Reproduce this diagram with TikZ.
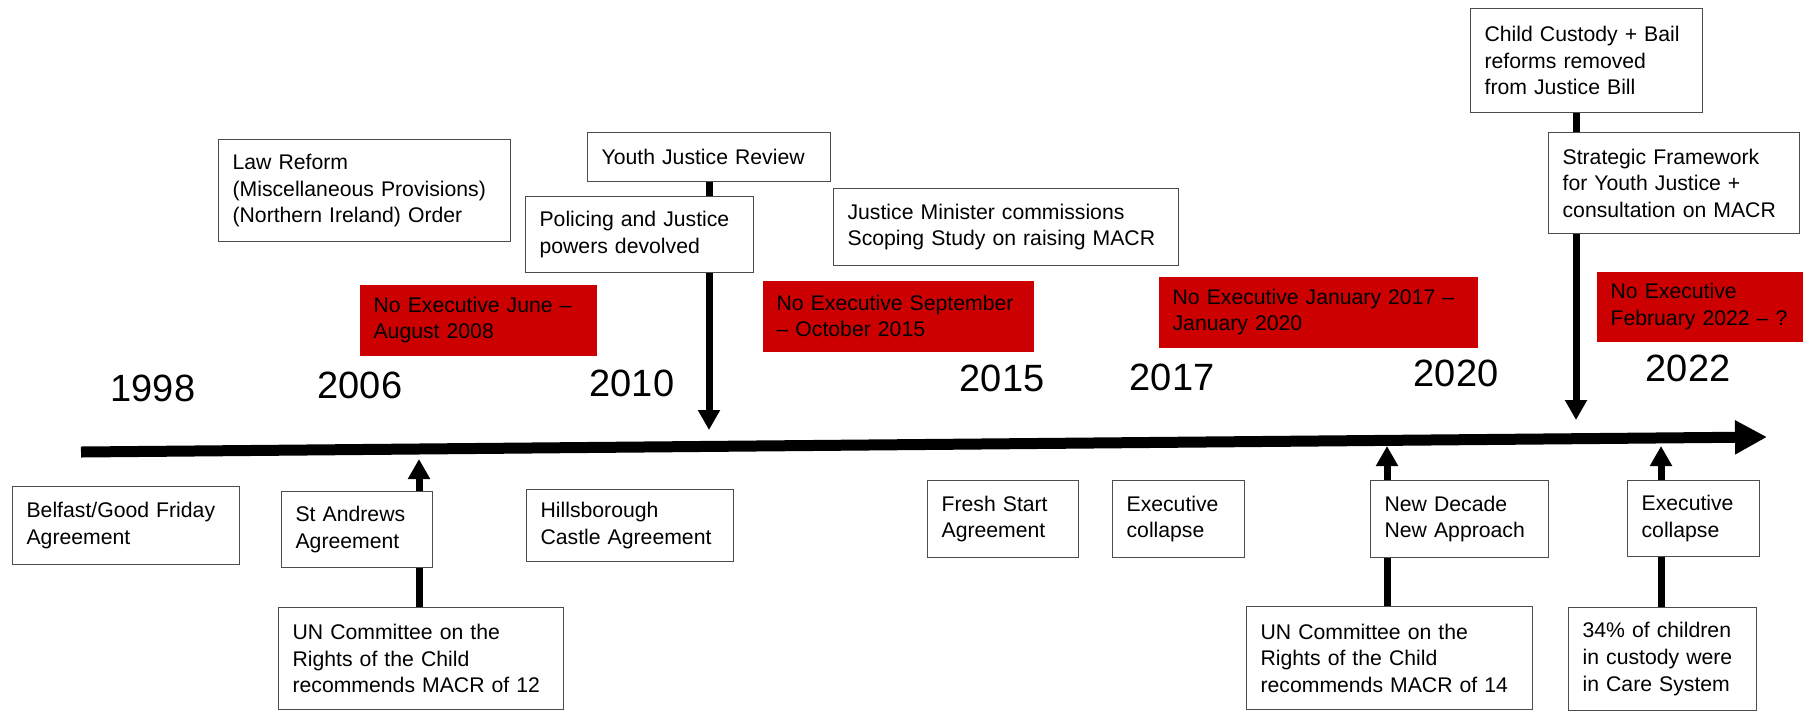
\documentclass[tikz,border=0pt]{standalone}
\usepackage{fontspec}
\setmainfont{Liberation Sans}
\usetikzlibrary{arrows.meta,calc}
\definecolor{noexecred}{HTML}{CC0000}
\tikzset{
  event/.style={draw=black!70, line width=0.6pt, fill=white, anchor=north west, align=left,
                inner xsep=7pt, inner ysep=2pt, font=\fontsize{10.6}{13.3}\selectfont},
  noexec/.style={event, draw=none, fill=noexecred},
  year/.style={font=\fontsize{19}{23}\selectfont, inner sep=0pt},
  timeline/.style={line width=5.5pt, -{Triangle[width=16pt,length=16pt]}},
  pointer/.style={line width=3.5pt, -{Triangle[width=10.5pt,length=10pt]}},
  stem/.style={line width=3.5pt}
}

\begin{document}
\begin{tikzpicture}[x=0.5pt,y=-0.5pt]
  \useasboundingbox (0,0) rectangle (1803,713);

  % Events above the time line.
  \node[event, text width=132pt, minimum height=51pt] (lawreform) at (218,139)
    {Law Reform\\(Miscellaneous Provisions)\\(Northern Ireland) Order};
  \node[event, text width=107.5pt, minimum height=24.5pt] (youthreview) at (587,132)
    {Youth Justice Review};
  \node[event, text width=100pt, minimum height=38pt] (policing) at (525,196)
    {Policing and Justice\\powers devolved};
  \node[event, text width=158.5pt, minimum height=38.5pt] (ministerstudy) at (833,188)
    {Justice Minister commissions\\Scoping Study on raising MACR};
  \node[event, text width=102pt, minimum height=52pt] (childcustody) at (1470,8)
    {Child Custody + Bail\\reforms removed\\from Justice Bill};
  \node[event, text width=111.5pt, minimum height=50.5pt] (strategic) at (1548,132)
    {Strategic Framework\\for Youth Justice +\\consultation on MACR};

  % Periods without an Executive.
  \node[noexec, text width=104.5pt, minimum height=35.5pt] (noexec2008) at (359,284)
    {No Executive June --\\August 2008};
  \node[noexec, text width=121.5pt, minimum height=35.5pt] (noexec2015) at (762,280)
    {No Executive September\\-- October 2015};
  \node[noexec, text width=145.5pt, minimum height=35.5pt] (noexec2017) at (1158,276)
    {No Executive January 2017 --\\January 2020};
  \node[noexec, text width=89.5pt, minimum height=35pt] (noexec2022) at (1596,271)
    {No Executive\\February 2022 -- ?};

  % Years.
  \node[year] (y1998) at (153,388) {1998};
  \node[year] (y2006) at (360,385) {2006};
  \node[year] (y2010) at (632,383) {2010};
  \node[year] (y2015) at (1002,378) {2015};
  \node[year] (y2017) at (1172,377) {2017};
  \node[year] (y2020) at (1456,373) {2020};
  \node[year] (y2022) at (1688,368) {2022};

  % Events below the time line.
  \node[event, text width=99.5pt, minimum height=39pt] (belfast) at (12,486)
    {Belfast/Good Friday\\Agreement};
  \node[event, text width=61.5pt, minimum height=38pt] (standrews) at (281,491)
    {St Andrews\\Agreement};
  \node[event, text width=89.5pt, minimum height=36pt] (hillsborough) at (526,489)
    {Hillsborough\\Castle Agreement};
  \node[event, text width=61.5pt, minimum height=38.5pt] (freshstart) at (927,480)
    {Fresh Start\\Agreement};
  \node[event, text width=52pt, minimum height=38.5pt] (collapse17) at (1112,480)
    {Executive\\collapse};
  \node[event, text width=75pt, minimum height=38.5pt] (newdecade) at (1370,480)
    {New Decade\\New Approach};
  \node[event, text width=52pt, minimum height=38pt] (collapse22) at (1627,480)
    {Executive\\collapse};
  \node[event, text width=128.5pt, minimum height=51pt] (uncrc12) at (278,607)
    {UN Committee on the\\Rights of the Child\\recommends MACR of 12};
  \node[event, text width=129pt, minimum height=51.5pt] (uncrc14) at (1246,606)
    {UN Committee on the\\Rights of the Child\\recommends MACR of 14};
  \node[event, text width=80pt, minimum height=51.5pt] (custodycare) at (1568,607)
    {34\% of children\\in custody were\\in Care System};

  % Time line and the points where events meet it.
  \coordinate (axisstart) at (81,452);
  \coordinate (axisend) at (1767,437);
  \coordinate (axis2006) at (419,459);
  \coordinate (axis2010) at (709,430);
  \coordinate (axis2020) at (1387,446);
  \coordinate (axisframe) at (1576,420);
  \coordinate (axis2022) at (1661,446);
  \draw[timeline] (axisstart) -- (axisend);

  % Connectors.
  \draw[stem] (uncrc12.north -| axis2006) -- (standrews.south -| axis2006);
  \draw[pointer] (standrews.north -| axis2006) -- (axis2006);
  \draw[stem] (youthreview.south -| axis2010) -- (policing.north -| axis2010);
  \draw[pointer] (policing.south -| axis2010) -- (axis2010);
  \draw[stem] (uncrc14.north -| axis2020) -- (newdecade.south -| axis2020);
  \draw[pointer] (newdecade.north -| axis2020) -- (axis2020);
  \draw[stem] (childcustody.south -| axisframe) -- (strategic.north -| axisframe);
  \draw[pointer] (strategic.south -| axisframe) -- (axisframe);
  \draw[stem] (custodycare.north -| axis2022) -- (collapse22.south -| axis2022);
  \draw[pointer] (collapse22.north -| axis2022) -- (axis2022);
\end{tikzpicture}
\end{document}
